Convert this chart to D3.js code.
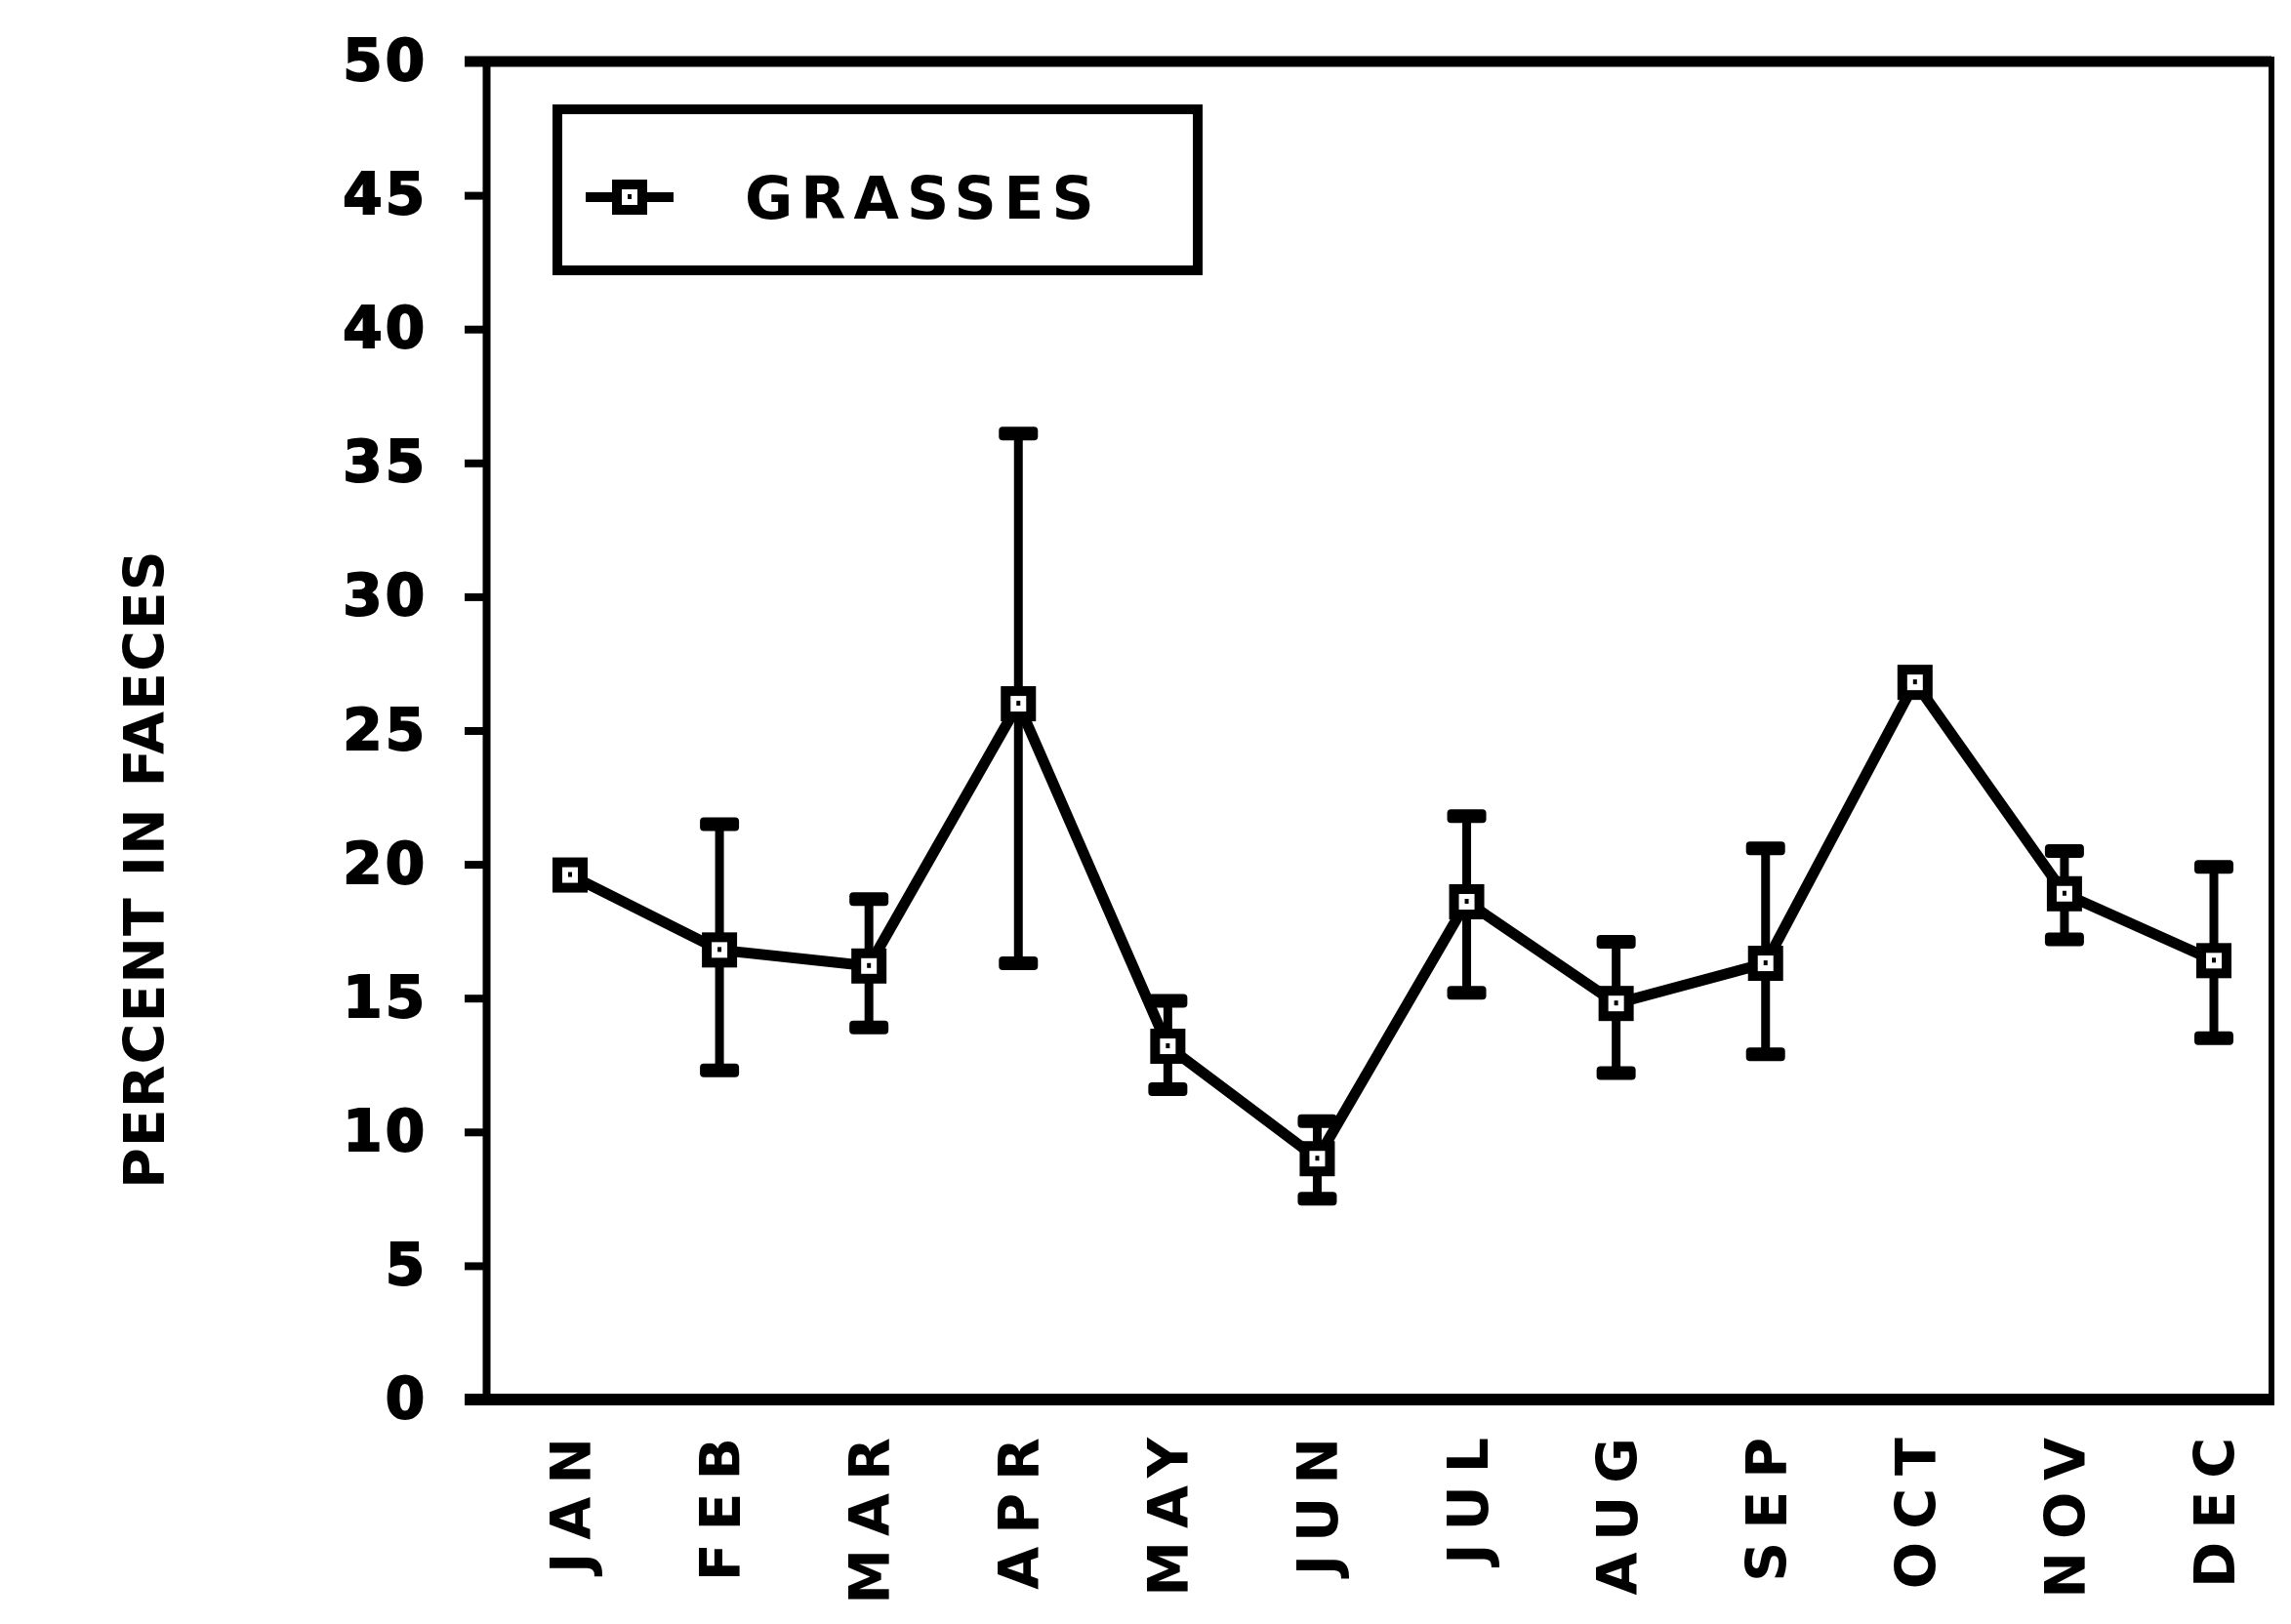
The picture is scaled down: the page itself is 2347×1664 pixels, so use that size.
<!DOCTYPE html>
<html>
<head>
<meta charset="utf-8">
<script src="https://cdn.jsdelivr.net/npm/d3@7"></script>
<style>
  html, body { margin: 0; padding: 0; background: #fff; }
  svg { display: block; }
  text { font-family: "DejaVu Sans", sans-serif; font-weight: bold; fill: #000; }
</style>
</head>
<body>
<script>
// Monthly share of grasses in faeces (mean with error range)
const months = ["JAN", "FEB", "MAR", "APR", "MAY", "JUN", "JUL", "AUG", "SEP", "OCT", "NOV", "DEC"];
const meanValues = [19.6, 16.8, 16.2, 26.0, 13.2, 9.0, 18.6, 14.8, 16.3, 26.8, 18.9, 16.4];
const upperValues = [null, 21.5, 18.7, 36.1, 14.9, 10.4, 21.8, 17.1, 20.6, null, 20.5, 19.9];
const lowerValues = [null, 12.3, 13.9, 16.3, 11.6, 7.5, 15.2, 12.2, 12.9, null, 17.2, 13.5];
const yTickValues = [0, 5, 10, 15, 20, 25, 30, 35, 40, 45, 50];
const seriesName = "GRASSES";
const yTitle = "PERCENT IN FAECES";

const W = 2347, H = 1664;
const frame = { left: 498, right: 2327, top: 63, bottom: 1434 };
const letterFont = "DejaVu Sans, sans-serif";
const digitFont = "Liberation Sans, Arial, sans-serif";

const svg = d3.select("body").append("svg")
  .attr("width", W).attr("height", H);

const x = d3.scalePoint().domain(months).range([584, 2268]);
const y = d3.scaleLinear().domain([0, 50]).range([frame.bottom, frame.top]);

const data = months.map((m, i) => ({
  month: m, mean: meanValues[i], hi: upperValues[i], lo: lowerValues[i]
}));

// Frame: top and right edges
svg.append("line").attr("x1", frame.left - 22).attr("x2", frame.right)
  .attr("y1", frame.top).attr("y2", frame.top)
  .attr("stroke", "#000").attr("stroke-width", 11);
svg.append("line").attr("x1", frame.right).attr("x2", frame.right)
  .attr("y1", frame.top - 5).attr("y2", frame.bottom + 6)
  .attr("stroke", "#000").attr("stroke-width", 6);

// Y axis
const yAxis = svg.append("g")
  .attr("transform", `translate(${frame.left},0)`)
  .call(d3.axisLeft(y).tickValues(yTickValues).tickSize(22).tickPadding(38).tickFormat(d3.format("d")));
yAxis.select(".domain").attr("stroke", "#000").attr("stroke-width", 8);
yAxis.selectAll(".tick line").attr("stroke", "#000").attr("stroke-width", 8);
yAxis.selectAll(".tick text")
  .attr("font-size", 58).attr("letter-spacing", 3)
  .attr("font-family", digitFont)
  .attr("font-weight", "bold").attr("fill", "#000")
  .attr("stroke", "#000").attr("stroke-width", 2);

// X axis
const xAxis = svg.append("g")
  .attr("transform", `translate(0,${frame.bottom})`)
  .call(d3.axisBottom(x).tickSize(0).tickPadding(0));
xAxis.select(".domain").remove();
svg.append("line").attr("x1", frame.left - 22).attr("x2", frame.right + 3)
  .attr("y1", frame.bottom).attr("y2", frame.bottom)
  .attr("stroke", "#000").attr("stroke-width", 12);
xAxis.selectAll(".tick text")
  .attr("transform", "rotate(-90)")
  .attr("text-anchor", "end")
  .attr("x", -26).attr("y", 0).attr("dy", "0.36em")
  .attr("font-size", 57).attr("letter-spacing", 13)
  .attr("font-family", letterFont)
  .attr("font-weight", "bold").attr("fill", "#000");

// Y axis title
svg.append("text")
  .attr("transform", `translate(168,${(375 + 815) / 2 * 1.4968}) rotate(-90)`)
  .attr("text-anchor", "middle")
  .attr("font-size", 57).attr("letter-spacing", 1)
  .attr("font-family", letterFont)
  .text(yTitle);

// Error bars
const bars = data.filter(d => d.hi != null && d.lo != null);
const eb = svg.append("g");
eb.selectAll("line.stem").data(bars).join("line")
  .attr("class", "stem")
  .attr("x1", d => x(d.month)).attr("x2", d => x(d.month))
  .attr("y1", d => y(d.hi)).attr("y2", d => y(d.lo))
  .attr("stroke", "#000").attr("stroke-width", 9);
["hi", "lo"].forEach(k => {
  eb.selectAll(`rect.cap-${k}`).data(bars).join("rect")
    .attr("class", `cap-${k}`)
    .attr("x", d => x(d.month) - 20).attr("y", d => y(d[k]) - 7)
    .attr("width", 40).attr("height", 14).attr("rx", 4)
    .attr("fill", "#000");
});

// Series line
svg.append("path").datum(data)
  .attr("d", d3.line().x(d => x(d.month)).y(d => y(d.mean)))
  .attr("fill", "none").attr("stroke", "#000").attr("stroke-width", 11)
  .attr("stroke-linejoin", "round");

// Square markers
function drawMarker(g, cx, cy) {
  g.append("rect")
    .attr("x", cx - 13).attr("y", cy - 13).attr("width", 26).attr("height", 26)
    .attr("fill", "#fff").attr("stroke", "#000").attr("stroke-width", 10);
  g.append("rect")
    .attr("x", cx - 2).attr("y", cy - 3).attr("width", 4).attr("height", 5)
    .attr("fill", "#000");
}
const mk = svg.append("g");
data.forEach(d => drawMarker(mk, x(d.month), y(d.mean)));

// Legend
const legend = svg.append("g");
legend.append("rect")
  .attr("x", 571).attr("y", 112).attr("width", 656).attr("height", 165)
  .attr("fill", "#fff").attr("stroke", "#000").attr("stroke-width", 10);
legend.append("line").attr("x1", 600).attr("x2", 690).attr("y1", 202).attr("y2", 202)
  .attr("stroke", "#000").attr("stroke-width", 10);
drawMarker(legend, 645, 202);
legend.append("text")
  .attr("x", 763).attr("y", 224)
  .attr("font-size", 60).attr("letter-spacing", 8)
  .attr("font-family", letterFont)
  .text(seriesName);
</script>
</body>
</html>
